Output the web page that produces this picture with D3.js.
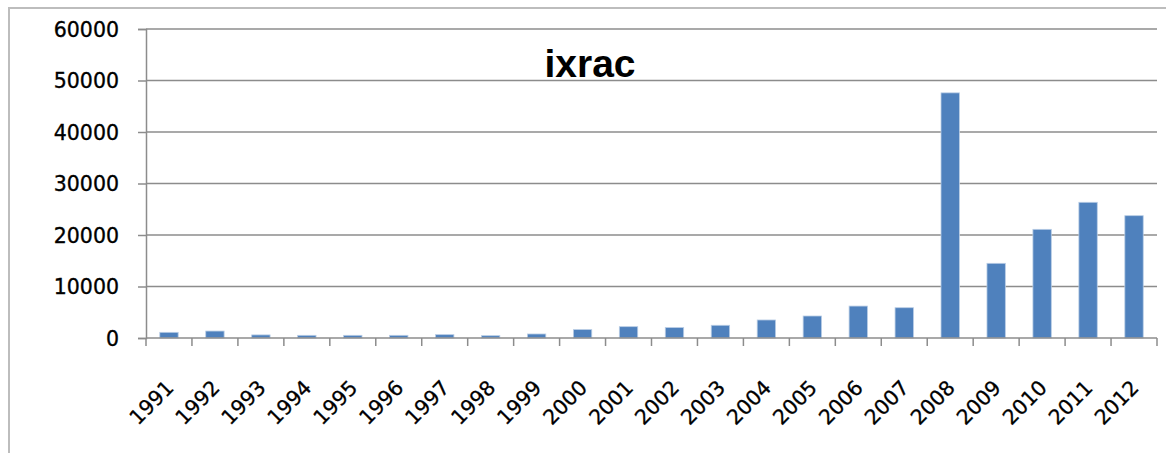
<!DOCTYPE html>
<html>
<head>
<meta charset="utf-8">
<script src="https://cdn.jsdelivr.net/npm/d3@7"></script>
<style>
  html, body { margin: 0; padding: 0; background: #fff; }
  svg { display: block; }
</style>
</head>
<body>
<svg id="chart" width="1166" height="453"></svg>
<script>
const title = "ixrac";
const years = ["1991","1992","1993","1994","1995","1996","1997","1998","1999","2000","2001","2002","2003","2004","2005","2006","2007","2008","2009","2010","2011","2012"];
const values = [1100, 1350, 600, 520, 520, 520, 650, 450, 780, 1630, 2200, 2020, 2470, 3500, 4270, 6200, 5880, 47600, 14500, 21100, 26350, 23750];
const yTicks = [0, 10000, 20000, 30000, 40000, 50000, 60000];

const svg = d3.select("#chart");
const m = { left: 146, right: 1157, top: 29, bottom: 338 };

// chart frame
svg.append("rect")
  .attr("x", 9).attr("y", 8)
  .attr("width", 1180).attr("height", 460)
  .attr("fill", "#fff").attr("stroke", "#bdbdbd").attr("stroke-width", 2);

const x = d3.scaleBand().domain(years).range([m.left, m.right]).paddingInner(0.6).paddingOuter(0.3);
const y = d3.scaleLinear().domain([0, 60000]).range([m.bottom, m.top]);

// gridlines
svg.append("g").selectAll("line").data(yTicks.filter(d => d > 0)).join("line")
  .attr("x1", m.left).attr("x2", m.right)
  .attr("y1", d => y(d)).attr("y2", d => y(d))
  .attr("stroke", "#8c8c8c").attr("stroke-width", 1.5);

// y axis
const yAxis = svg.append("g")
  .attr("transform", `translate(${m.left},0)`)
  .call(d3.axisLeft(y).tickValues(yTicks).tickSize(8).tickPadding(19).tickFormat(d3.format("d")));
yAxis.select(".domain").attr("stroke", "#8c8c8c").attr("stroke-width", 1.5);
yAxis.selectAll(".tick line").attr("stroke", "#8c8c8c").attr("stroke-width", 1.5);
yAxis.selectAll("text")
  .attr("font-family", "'DejaVu Sans', sans-serif")
  .attr("font-size", 20.5).attr("fill", "#000")
  .attr("stroke", "#000").attr("stroke-width", 0.35)
  .attr("dy", "0.36em");

// bars
svg.append("g").selectAll("rect").data(values).join("rect")
  .attr("x", (d, i) => x(years[i]))
  .attr("width", x.bandwidth())
  .attr("y", d => y(d))
  .attr("height", d => y(0) - y(d))
  .attr("fill", "#4f81bd")
  .attr("stroke", "#b9cde5").attr("stroke-width", 0.8);

// x axis with ticks at category boundaries
const bounds = d3.range(years.length + 1).map(i => m.left + i * x.step());
const xg = svg.append("g");
xg.append("line").attr("x1", m.left).attr("x2", m.right)
  .attr("y1", m.bottom).attr("y2", m.bottom)
  .attr("stroke", "#8c8c8c").attr("stroke-width", 1.5);
xg.selectAll(".tk").data(bounds).join("line").attr("class", "tk")
  .attr("x1", d => d).attr("x2", d => d)
  .attr("y1", m.bottom).attr("y2", m.bottom + 8)
  .attr("stroke", "#8c8c8c").attr("stroke-width", 1.5);
xg.selectAll("text").data(years).join("text")
  .attr("transform", d => `translate(${x(d) + x.bandwidth() / 2 + 6},389) rotate(-45)`)
  .attr("text-anchor", "end")
  .attr("font-family", "'DejaVu Sans', sans-serif")
  .attr("font-size", 20.5)
  .attr("fill", "#000")
  .attr("stroke", "#000").attr("stroke-width", 0.3)
  .text(d => d);

// title
svg.append("text")
  .attr("x", 590).attr("y", 77)
  .attr("text-anchor", "middle")
  .attr("font-family", "'Liberation Sans', Arial, sans-serif")
  .attr("font-weight", "bold")
  .attr("font-size", 39)
  .attr("fill", "#000")
  .text(title);
</script>
</body>
</html>
